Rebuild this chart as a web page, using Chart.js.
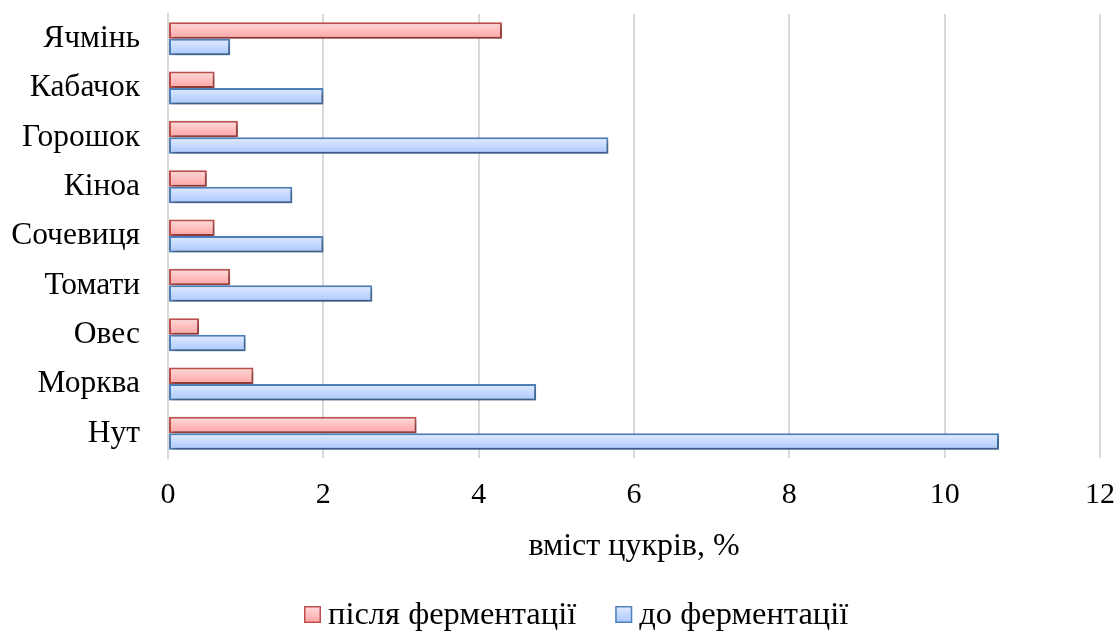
<!DOCTYPE html>
<html>
<head>
<meta charset="utf-8">
<script src="https://cdn.jsdelivr.net/npm/chart.js@4/dist/chart.umd.min.js"></script>
<style>
  html, body { margin: 0; padding: 0; background: #fff; }
  #wrap { width: 1118px; height: 633px; }
</style>
</head>
<body>
<div id="wrap"><canvas id="c"></canvas></div>
<script>
// Sugar content by crop, before and after fermentation (%)
const categories = ['Ячмінь', 'Кабачок', 'Горошок', 'Кіноа', 'Сочевиця', 'Томати', 'Овес', 'Морква', 'Нут'];
const afterFermentation  = [4.3, 0.6, 0.9, 0.5, 0.6, 0.8, 0.4, 1.1, 3.2];
const beforeFermentation = [0.8, 2.0, 5.67, 1.6, 2.0, 2.63, 1.0, 4.74, 10.7];
const seriesNames = ['після ферментації', 'до ферментації'];
const xTicks = [0, 2, 4, 6, 8, 10, 12];
const axisTitle = 'вміст цукрів, %';

const FONT = "'Liberation Serif', 'Times New Roman', serif";
const CAT_PCT = 0.67;

const RED = { border: '#c0504d', top: '#ffdcdc', bottom: '#ffa3a3' };
const BLUE = { border: '#4f81bd', top: '#e1ebff', bottom: '#a9c7ff' };

// vertical gradient for each bar, computed from the category band it sits in
function barFill(pal) {
  return (ctx) => {
    const chart = ctx.chart;
    const area = chart.chartArea;
    if (!area || ctx.type !== 'data' || !chart.scales.y) return pal.bottom;
    const band = (area.bottom - area.top) / categories.length;
    const center = chart.scales.y.getPixelForValue(ctx.dataIndex);
    const barH = band * CAT_PCT / 2;
    const y0 = center - band * CAT_PCT / 2 + ctx.datasetIndex * barH;
    const g = chart.ctx.createLinearGradient(0, y0, 0, y0 + barH);
    g.addColorStop(0, pal.top);
    g.addColorStop(1, pal.bottom);
    return g;
  };
}

// soft drop shadow under the bars
const barShadow = {
  id: 'barShadow',
  beforeDatasetsDraw(chart) {
    const c = chart.ctx;
    c.save();
    c.shadowColor = 'rgba(0,0,0,0.35)';
    c.shadowBlur = 5;
    c.shadowOffsetX = 2;
    c.shadowOffsetY = 3;
  },
  afterDatasetsDraw(chart) {
    chart.ctx.restore();
  }
};

// legend row under the axis title: small framed swatch, then the series name
const legendRow = {
  id: 'legendRow',
  afterDraw(chart) {
    const c = chart.ctx;
    const box = 17, textGap = 7, itemGap = 39, baseline = 624;
    const pals = [RED, BLUE];
    c.save();
    c.font = "32.5px " + FONT;
    c.textBaseline = 'alphabetic';
    c.textAlign = 'left';
    let x = 304;
    seriesNames.forEach((name, i) => {
      const pal = pals[i];
      const by = baseline - box - 1;
      const g = c.createLinearGradient(0, by, 0, by + box);
      g.addColorStop(0, pal.top);
      g.addColorStop(1, pal.bottom);
      c.fillStyle = g;
      c.fillRect(x, by, box, box);
      c.strokeStyle = pal.border;
      c.lineWidth = 1.5;
      c.strokeRect(x + 0.75, by + 0.75, box - 1.5, box - 1.5);
      const tx = x + box + textGap;
      c.fillStyle = '#000';
      c.fillText(name, tx, baseline);
      x = tx + c.measureText(name).width + itemGap;
    });
    c.restore();
  }
};

new Chart(document.getElementById('c'), {
  type: 'bar',
  data: {
    labels: categories,
    datasets: [
      {
        label: seriesNames[0],
        data: afterFermentation,
        backgroundColor: barFill(RED),
        borderColor: RED.border,
        borderWidth: 2,
        borderSkipped: false
      },
      {
        label: seriesNames[1],
        data: beforeFermentation,
        backgroundColor: barFill(BLUE),
        borderColor: BLUE.border,
        borderWidth: 2,
        borderSkipped: false
      }
    ]
  },
  options: {
    indexAxis: 'y',
    responsive: true,
    maintainAspectRatio: false,
    animation: false,
    datasets: { bar: { categoryPercentage: CAT_PCT, barPercentage: 1 } },
    layout: { padding: { top: 14, right: 18, left: 0, bottom: 67 } },
    scales: {
      x: {
        min: 0,
        max: 12,
        afterBuildTicks(scale) { scale.ticks = xTicks.map(v => ({ value: v })); },
        afterFit(scale) { scale.paddingLeft = 0; scale.paddingRight = 0; scale.height = 108; },
        grid: { color: '#d9d9d9', lineWidth: 2, drawTicks: false },
        border: { display: false },
        ticks: { color: '#000', padding: 19, font: { family: FONT, size: 30 } },
        title: {
          display: true,
          text: axisTitle,
          color: '#000',
          padding: { top: 0, bottom: 0 },
          font: { family: FONT, size: 32 }
        }
      },
      y: {
        afterFit(scale) { scale.paddingTop = 0; scale.paddingBottom = 0; scale.width = 168; },
        grid: { display: false, drawTicks: false },
        border: { display: true, color: '#d9d9d9', width: 2 },
        ticks: { color: '#000', padding: 28, font: { family: FONT, size: 31.5 } }
      }
    },
    plugins: {
      tooltip: { enabled: false },
      legend: { display: false }
    }
  },
  plugins: [barShadow, legendRow]
});
</script>
</body>
</html>
